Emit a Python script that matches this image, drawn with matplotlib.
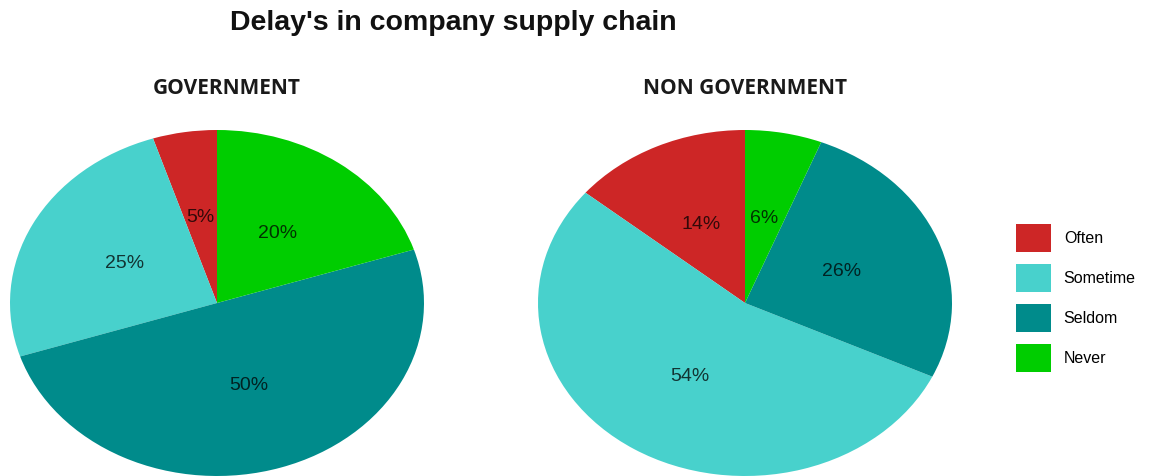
import matplotlib.pyplot as plt

categories = ["Often", "Sometime", "Seldom", "Never"]
government = [5, 25, 50, 20]
non_government = [14, 54, 26, 6]
panel_titles = ["GOVERNMENT", "NON GOVERNMENT"]
colors = ["#CD2626", "#48D1CC", "#008B8B", "#00CD00"]

W, H = 1157, 476
fig = plt.figure(figsize=(W / 100, H / 100), dpi=100)
fig.patch.set_facecolor("white")


def draw_pie(rect, values, title, title_x):
    ax = fig.add_axes(rect)
    wedges, _, autotexts = ax.pie(
        values, colors=colors, startangle=90, counterclock=True,
        autopct=lambda p: f"{p:.0f}%", pctdistance=0.5,
        wedgeprops=dict(linewidth=0),
        textprops=dict(fontsize=14, color="black", alpha=0.75,
                       family="Liberation Sans"),
    )
    # stretch the pie to fill the axes box (ellipse)
    ax.set_aspect("auto")
    ax.set_xlim(-1, 1)
    ax.set_ylim(-1, 1)
    fig.text(title_x / W, 1 - 88 / H, title, ha="center", va="center",
             fontsize=15, fontweight="bold", family="Open Sans", color="#1a1a1a")
    return wedges


# pie boxes in pixels: centre (x, y) and radii
rx, ry = 207, 173
wedges = draw_pie([(217 - rx) / W, 1 - (303 + ry) / H, 2 * rx / W, 2 * ry / H],
                  government, panel_titles[0], 227)
draw_pie([(745 - rx) / W, 1 - (303 + ry) / H, 2 * rx / W, 2 * ry / H],
         non_government, panel_titles[1], 745)

fig.text(453 / W, 1 - 23 / H, "Delay's in company supply chain", ha="center",
         va="center", fontsize=20.5, fontweight="bold", family="Liberation Sans",
         color="#111111")

fig.legend(wedges, categories, loc="upper left",
           bbox_to_anchor=(1016 / W, 1 - 224 / H), frameon=False,
           borderpad=0, borderaxespad=0, handlelength=2.19, handleheight=2.315,
           labelspacing=0.75, handletextpad=0.8,
           prop=dict(family="Liberation Sans", size=11.5))

fig.savefig("out.png", dpi=100, facecolor="white")
